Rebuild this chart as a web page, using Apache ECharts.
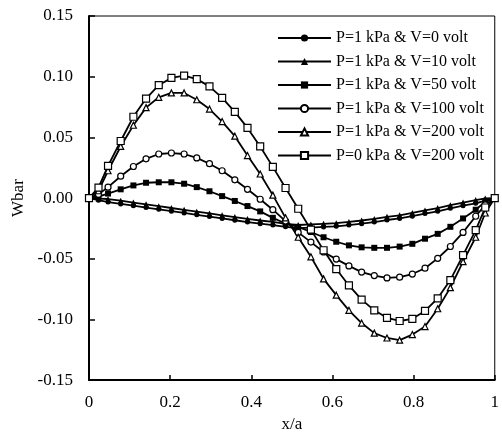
<!DOCTYPE html>
<html>
<head>
<meta charset="utf-8">
<script src="https://cdn.jsdelivr.net/npm/echarts@6/dist/echarts.min.js"></script>
<style>
    html, body { margin: 0; padding: 0; background: #fff; }
    #chart { width: 502px; height: 438px; }
</style>
</head>
<body>
<div id="chart"></div>
<script>
    // x/a positions of the markers
    var xPos = [0, 0.0234, 0.0469, 0.0781, 0.1094, 0.1406, 0.1719, 0.2031, 0.2344, 0.2656,
        0.2969, 0.3281, 0.3594, 0.3906, 0.4219, 0.4531, 0.4844, 0.5156, 0.5469, 0.5781,
        0.6094, 0.6406, 0.6719, 0.7031, 0.7344, 0.7656, 0.7969, 0.8281, 0.8594, 0.8906,
        0.9219, 0.9531, 0.9766, 1];

    var seriesNames = ['P=1 kPa & V=0 volt', 'P=1 kPa & V=10 volt', 'P=1 kPa & V=50 volt',
        'P=1 kPa & V=100 volt', 'P=1 kPa & V=200 volt', 'P=0 kPa & V=200 volt'];

    var p1v0 = [0, -0.0018, -0.0033, -0.0048, -0.0063, -0.0078, -0.0093, -0.0108, -0.0123, -0.0138,
        -0.0153, -0.0168, -0.0183, -0.0198, -0.0211, -0.0223, -0.0237, -0.0247, -0.0243, -0.0238,
        -0.0233, -0.0223, -0.0211, -0.0198, -0.0181, -0.0168, -0.0149, -0.0128, -0.0109, -0.0085,
        -0.0063, -0.0043, -0.0022, 0];
    var p1v10 = [0, -0.0004, -0.0008, -0.0022, -0.0037, -0.0052, -0.0067, -0.0082, -0.0097, -0.0112,
        -0.0127, -0.0142, -0.0157, -0.0172, -0.0185, -0.0197, -0.0212, -0.0222, -0.0217, -0.0212,
        -0.0207, -0.0197, -0.0185, -0.0172, -0.0155, -0.0142, -0.0123, -0.0102, -0.0083, -0.0059,
        -0.0037, -0.0017, -0.0003, 0];
    var p1v50 = [0, 0.0012, 0.0037, 0.0072, 0.0104, 0.0126, 0.013, 0.013, 0.0118, 0.009,
        0.0056, 0.0016, -0.0024, -0.0066, -0.011, -0.0163, -0.021, -0.0238, -0.028, -0.0323,
        -0.036, -0.039, -0.0406, -0.041, -0.041, -0.040, -0.0377, -0.0335, -0.0295, -0.0237,
        -0.0168, -0.0096, -0.003, 0];
    var p1v100 = [0, 0.003, 0.009, 0.018, 0.026, 0.0323, 0.0363, 0.0371, 0.0363, 0.0331,
        0.0283, 0.0225, 0.015, 0.0072, -0.001, -0.0096, -0.019, -0.0283, -0.0363, -0.0444,
        -0.0503, -0.0559, -0.061, -0.0639, -0.0658, -0.0652, -0.0626, -0.0578, -0.0497, -0.0399,
        -0.0283, -0.015, -0.0056, 0];
    var p1v200 = [0, 0.006, 0.0225, 0.0425, 0.060, 0.0745, 0.083, 0.0866, 0.0866, 0.081,
        0.0733, 0.063, 0.051, 0.035, 0.0198, 0.0024, -0.0163, -0.0323, -0.0484, -0.0666,
        -0.080, -0.0925, -0.103, -0.1113, -0.1153, -0.1171, -0.1125, -0.1059, -0.0912, -0.0738,
        -0.0524, -0.0323, -0.0123, 0];
    var p0v200 = [0, 0.0086, 0.0265, 0.047, 0.067, 0.082, 0.093, 0.099, 0.1008, 0.098,
        0.092, 0.0826, 0.071, 0.0578, 0.0425, 0.0257, 0.0083, -0.0088, -0.026, -0.043,
        -0.0585, -0.072, -0.0837, -0.0925, -0.0987, -0.1013, -0.0995, -0.093, -0.0826, -0.0676,
        -0.047, -0.0265, -0.0078, 0];

    var allValues = [p1v0, p1v10, p1v50, p1v100, p1v200, p0v200];
    var symbols = ['circle', 'triangle', 'rect', 'circle', 'triangle', 'rect'];
    var symbolSizes = [5, 6, 6, 6, 6, 7];
    var hollow = [false, false, false, true, true, true];

    var font = '"Liberation Serif", "Times New Roman", serif';

    function pairUp(ys) {
        var out = [];
        for (var i = 0; i < xPos.length; i++) {
            out.push([xPos[i], ys[i]]);
        }
        return out;
    }

    var series = [];
    for (var s = 0; s < allValues.length; s++) {
        series.push({
            name: seriesNames[s],
            type: 'line',
            data: pairUp(allValues[s]),
            symbol: symbols[s],
            symbolSize: symbolSizes[s],
            showAllSymbol: true,
            smooth: false,
            lineStyle: { color: '#000', width: 1.8 },
            itemStyle: {
                color: hollow[s] ? '#fff' : '#000',
                borderColor: '#000',
                borderWidth: hollow[s] ? 1.2 : 0
            },
            emphasis: { disabled: true },
            animation: false
        });
    }

    var myChart = echarts.init(document.getElementById('chart'));
    myChart.setOption({
        backgroundColor: '#fff',
        animation: false,
        grid: {
            left: 89,
            right: 1,
            top: 16,
            bottom: 47,
            show: true,
            borderColor: '#000',
            borderWidth: 1
        },
        legend: {
            orient: 'vertical',
            left: 277,
            top: 30,
            padding: 0,
            itemWidth: 53,
            itemHeight: 9,
            itemGap: 7.5,
            data: seriesNames,
            textStyle: {
                fontFamily: font,
                fontSize: 16,
                lineHeight: 16,
                color: '#000'
            }
        },
        xAxis: {
            type: 'value',
            min: 0,
            max: 1,
            interval: 0.2,
            name: 'x/a',
            nameLocation: 'middle',
            nameGap: 33,
            nameTextStyle: { fontFamily: font, fontSize: 17, color: '#000' },
            axisLine: { onZero: false, lineStyle: { color: '#000', width: 2 } },
            axisTick: { inside: true, length: 5, lineStyle: { color: '#000', width: 1.5 } },
            axisLabel: {
                fontFamily: font, fontSize: 17, color: '#000', margin: 14,
                formatter: function (v) { return String(Math.round(v * 10) / 10); }
            },
            splitLine: { show: false }
        },
        yAxis: {
            type: 'value',
            min: -0.15,
            max: 0.15,
            interval: 0.05,
            name: 'Wbar',
            nameLocation: 'middle',
            nameGap: 59,
            nameTextStyle: { fontFamily: font, fontSize: 17, color: '#000' },
            axisLine: { onZero: false, lineStyle: { color: '#000', width: 2 } },
            axisTick: { inside: true, length: 6, lineStyle: { color: '#000', width: 1.5 } },
            axisLabel: {
                fontFamily: font, fontSize: 17, color: '#000', margin: 16,
                formatter: function (v) {
                    if (Math.abs(v) < 1e-9) return '0.00';
                    return v.toFixed(2);
                }
            },
            splitLine: { show: false }
        },
        series: series
    });
</script>
</body>
</html>
